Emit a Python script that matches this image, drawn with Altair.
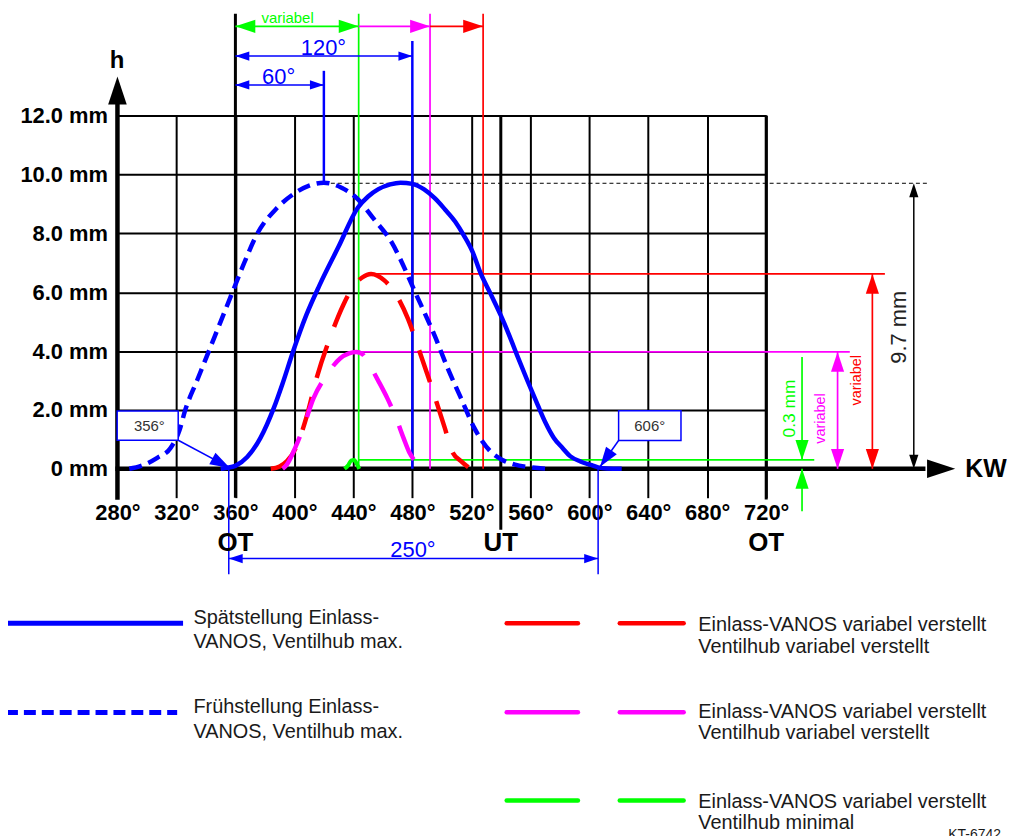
import altair as alt
import pandas as pd

FONT = "Liberation Sans"
BLUE, RED, MAG, GRN, BLK = "#0000ff", "#ff0000", "#ff00ff", "#00ff00", "#000000"
TXT = "#1a1a1a"

# ---------------- axis ticks ----------------
x_ticks = [280, 320, 360, 400, 440, 480, 520, 560, 600, 640, 680, 720]
y_ticks = [0, 2, 4, 6, 8, 10, 12]

# ---------------- valve lift curves (crank angle deg, lift mm) ----------------
late_deg = [350, 354, 360, 368, 377, 386, 392, 399, 408, 417, 430, 443, 450, 457, 465,
            472, 480, 488, 495, 502, 509, 515, 521, 526, 533, 540, 546, 551, 558, 565,
            570, 576, 582, 587, 594, 601, 606, 612, 622]
late_mm = [0, 0.03, 0.1, 0.4, 1.05, 2.06, 2.9, 3.97, 5.21, 6.23, 7.55, 8.87, 9.25, 9.5, 9.66,
           9.72, 9.68, 9.49, 9.2, 8.82, 8.4, 7.92, 7.35, 6.68, 5.95, 5.21, 4.5, 3.86, 3.0, 2.17,
           1.6, 1.05, 0.7, 0.43, 0.25, 0.13, 0.05, 0.01, 0]

early_deg = [288, 296, 307, 316, 322, 326, 334, 342, 350, 358, 366, 375, 388, 399, 410, 420,
             432, 443, 454, 466, 477, 481, 486, 495, 504, 513, 522, 533, 541, 549, 560, 572]
early_mm = [0, 0.1, 0.37, 0.71, 1.3, 2.0, 3.0, 4.0, 5.0, 6.0, 7.0, 8.0, 8.85, 9.32, 9.62, 9.72,
            9.55, 9.16, 8.48, 7.69, 6.56, 6.1, 5.55, 4.54, 3.41, 2.4, 1.39, 0.59, 0.3, 0.15, 0.05, 0]

red_deg = [384, 390, 395, 401, 408, 415, 424, 433, 440, 446, 452, 461, 470, 477, 485, 490,
           497, 502, 507, 513, 518]
red_mm = [0, 0.08, 0.26, 0.71, 1.72, 3.07, 4.43, 5.55, 6.2, 6.5, 6.62, 6.4, 5.83, 5.1, 3.97,
          3.24, 2.17, 1.39, 0.59, 0.26, 0.05]

mag_deg = [392, 395, 400, 406, 413, 422, 431, 437, 442, 446, 451, 457, 463, 469, 474, 478,
           483, 487, 491]
mag_mm = [0, 0.15, 0.65, 1.39, 2.4, 3.19, 3.75, 3.92, 3.97, 3.9, 3.52, 2.98, 2.4, 1.72, 1.05,
          0.55, 0.2, 0.06, 0]

grn_deg = [434, 436.5, 438.5, 440.5, 442.5, 444]
grn_mm = [0, 0.12, 0.28, 0.3, 0.15, 0]

# ---------------- key values ----------------
OT1, UT, OT2 = 360, 540, 720
LATE_OPEN, LATE_CLOSE = 356, 606
EARLY_PEAK, LATE_PEAK = 420, 480
GREEN_END, MAG_END, RED_END = 443.6, 492, 528
LIFT_MAX, LIFT_RED, LIFT_MAG, LIFT_MIN = 9.7, 6.62, 3.97, 0.3

legend_left = ["Spätstellung Einlass-", "VANOS, Ventilhub max.",
               "Frühstellung Einlass-", "VANOS, Ventilhub max."]
legend_right = ["Einlass-VANOS variabel verstellt", "Ventilhub variabel verstellt",
                "Einlass-VANOS variabel verstellt", "Ventilhub variabel verstellt",
                "Einlass-VANOS variabel verstellt", "Ventilhub minimal"]

XS = alt.Scale(domain=[280, 720], nice=False, zero=False)
YS = alt.Scale(domain=[0, 12], nice=False, zero=False)
HEAD = "M0,0L-2,-0.66L-2,0.66Z"

XA = alt.Axis(values=x_ticks, labelExpr="datum.value + '°'", labelFont=FONT,
              labelFontSize=22, labelFontWeight="bold", labelColor=BLK, labelPadding=5,
              ticks=True, tickSize=29, tickWidth=2, tickColor=BLK, grid=True,
              gridColor=BLK, gridWidth=2, gridOpacity=1, domain=False, title=None,
              labelFlush=False, labelOverlap=False)
YA = alt.Axis(values=y_ticks,
              labelExpr="datum.value == 0 ? '0 mm' : format(datum.value, '.1f') + ' mm'",
              labelFont=FONT, labelFontSize=22, labelFontWeight="bold", labelColor=BLK,
              labelPadding=10, ticks=False, grid=True, gridColor=BLK, gridWidth=2,
              gridOpacity=1, domain=False, title=None, labelFlush=False, labelOverlap=False)


def X(f):
    return alt.X(f"{f}:Q", scale=XS, axis=XA)


def Y(f):
    return alt.Y(f"{f}:Q", scale=YS, axis=YA)


def segs(rows, color, width, dash=None, cap="butt"):
    df = pd.DataFrame(rows, columns=["x", "y", "x2", "y2"])
    kw = dict(color=color, strokeWidth=width, strokeCap=cap)
    if dash:
        kw["strokeDash"] = dash
    return alt.Chart(df).mark_rule(**kw).encode(x=X("x"), y=Y("y"), x2="x2:Q", y2="y2:Q")


def texts(rows, size, color, weight="normal", angle=0, align="center"):
    df = pd.DataFrame(rows, columns=["x", "y", "t"])
    return alt.Chart(df).mark_text(font=FONT, fontSize=size, color=color, fontWeight=weight,
                                   angle=angle, align=align, baseline="middle").encode(
        x=X("x"), y=Y("y"), text="t:N")


def heads(rows, color, size):
    df = pd.DataFrame(rows, columns=["x", "y", "a"])
    return alt.Chart(df).mark_point(shape=HEAD, filled=True, size=size, color=color,
                                    opacity=1, strokeWidth=0).encode(
        x=X("x"), y=Y("y"), angle=alt.Angle("a:Q", scale=None))


def curve(deg, mm, color, width, dash=None):
    df = pd.DataFrame({"x": deg, "y": mm})
    kw = dict(color=color, strokeWidth=width, interpolate="monotone")
    if dash:
        kw["strokeDash"] = dash
    return alt.Chart(df).mark_line(**kw).encode(x=X("x"), y=Y("y"))


layers = [
    # frame lines
    segs([(OT1, -0.98, OT1, 15.46), (UT, -2.07, UT, 12), (OT2, -1.04, OT2, 12)], BLK, 3),
    segs([(280, -1.05, 280, 12.5), (278.6, 0, 828, 0)], BLK, 4.5),
    segs([(EARLY_PEAK, LIFT_MAX, 829.1, LIFT_MAX)], BLK, 1, dash=[4, 3]),
    segs([(820.1, 0.2, 820.1, LIFT_MAX - 0.2)], BLK, 1.5),
    # colored guide lines
    segs([(GREEN_END, 0, GREEN_END, 15.46), (OT1, 15.03, GREEN_END, 15.03),
          (GREEN_END, LIFT_MIN, 752.6, LIFT_MIN), (744.3, 3.8, 744.3, LIFT_MIN),
          (744.3, -1.44, 744.3, 0)], GRN, 1.7),
    segs([(MAG_END, 0, MAG_END, 15.46), (GREEN_END, 15.03, MAG_END, 15.03),
          (440, LIFT_MAG, 776.7, LIFT_MAG), (768.4, 0, 768.4, LIFT_MAG)], MAG, 1.7),
    segs([(RED_END, 0, RED_END, 15.46), (MAG_END, 15.03, RED_END, 15.03),
          (452, LIFT_RED, 800.5, LIFT_RED), (792, 0, 792, LIFT_RED)], RED, 1.7),
    segs([(LATE_PEAK, 0, LATE_PEAK, 14.53), (EARLY_PEAK, LIFT_MAX, EARLY_PEAK, 13.52)], BLUE, 2.5),
    segs([(OT1, 14.02, LATE_PEAK, 14.02), (OT1, 13.04, EARLY_PEAK, 13.04),
          (LATE_OPEN - 0.5, -3.05, LATE_CLOSE, -3.05), (LATE_OPEN - 0.5, 0, LATE_OPEN - 0.5, -3.58),
          (LATE_CLOSE, 0.05, LATE_CLOSE, -3.58), (321.2, 0.97, 356.3, 0.03),
          (619.9, 0.96, 607.3, 0.07)], BLUE, 1.5),
    # curves
    curve(late_deg, late_mm, BLUE, 4.5),
    curve(early_deg, early_mm, BLUE, 4.5, dash=[13, 7]),
    curve(red_deg, red_mm, RED, 4.5, dash=[34, 20]),
    curve(mag_deg, mag_mm, MAG, 4.5, dash=[37, 21]),
    curve(grn_deg, grn_mm, GRN, 4),
    # callout boxes
    alt.Chart(pd.DataFrame({"x": [279.8, 619.9], "x2": [321.2, 662.2],
                            "y": [1.96, 1.97], "y2": [0.97, 0.96]})).mark_rect(
        fill="white", stroke=BLUE, strokeWidth=1.5).encode(
        x=X("x"), x2="x2:Q", y=Y("y"), y2="y2:Q"),
    texts([(301.6, 1.46, f"{LATE_OPEN}°"), (641.0, 1.46, f"{LATE_CLOSE}°")], 15, "#333333"),
    # legend samples
    segs([(204.4, -5.25, 324.5, -5.25)], BLUE, 5),
    segs([(204.4, -8.28, 320.5, -8.28)], BLUE, 5, dash=[12, 6]),
    segs([(544, -5.25, 592.3, -5.25), (620.7, -5.25, 664, -5.25)], RED, 4.5, cap="round"),
    segs([(544, -8.27, 592.3, -8.27), (620.7, -8.27, 664, -8.27)], MAG, 4.5, cap="round"),
    segs([(544, -11.27, 592.3, -11.27), (620.7, -11.27, 664, -11.27)], GRN, 4.5, cap="round"),
    texts([(331.5, -5.07, legend_left[0]), (331.5, -5.88, legend_left[1]),
           (331.5, -8.10, legend_left[2]), (331.5, -8.94, legend_left[3])], 20, TXT, align="left"),
    texts([(673.9, -5.32, legend_right[0]), (673.9, -6.05, legend_right[1]),
           (673.9, -8.25, legend_right[2]), (673.9, -8.98, legend_right[3]),
           (673.9, -11.32, legend_right[4]), (673.9, -12.02, legend_right[5])], 20, TXT,
          align="left"),
    texts([(843.5, -12.44, "KT-6742")], 14, TXT, align="left"),
    # labels
    texts([(279.7, 13.86, "h")], 24, BLK, weight="bold"),
    texts([(869.0, -0.02, "KW")], 25, BLK, weight="bold"),
    texts([(OT1, -2.535, "OT"), (UT, -2.535, "UT"), (OT2, -2.535, "OT")], 26, BLK, weight="bold"),
    texts([(419.7, 14.30, "120°"), (389.3, 13.30, "60°"),
           (480.4, -2.755, f"{LATE_CLOSE - LATE_OPEN}°")], 22, BLUE),
    texts([(395.4, 15.33, "variabel")], 15, GRN),
    texts([(810.0, 4.81, f"{LIFT_MAX} mm")], 22, "#222222", angle=270),
    texts([(781.9, 3.01, "variabel")], 14.5, RED, angle=270),
    texts([(757.1, 1.71, "variabel")], 14.5, MAG, angle=270),
    texts([(736.4, 2.05, f"{LIFT_MIN} mm")], 17.5, GRN, angle=270),
    # arrow heads
    heads([(848.2, 0, 0), (280, 13.33, 270)], BLK, 800),
    heads([(820.1, LIFT_MAX, 270), (820.1, 0, 90)], BLK, 196),
    heads([(OT1, 15.03, 180), (GREEN_END, 15.03, 0), (744.3, LIFT_MIN, 90), (744.3, 0, 270)], GRN, 400),
    heads([(MAG_END, 15.03, 0), (768.4, LIFT_MAG, 270), (768.4, 0, 90)], MAG, 400),
    heads([(RED_END, 15.03, 0), (792, LIFT_RED, 270), (792, 0, 90)], RED, 400),
    heads([(OT1, 14.02, 180), (LATE_PEAK, 14.02, 0), (OT1, 13.04, 180), (EARLY_PEAK, 13.04, 0),
           (LATE_OPEN - 0.5, -3.05, 180), (LATE_CLOSE, -3.05, 0)], BLUE, 196),
    heads([(356.3, 0.03, 28), (607.3, 0.07, 125)], BLUE, 400),
]

chart = alt.layer(*layers).properties(
    width=652, height=355,
    autosize=alt.AutoSizeParams(type="none"),
    padding={"left": 110, "top": 106, "right": 242, "bottom": 379},
    background="white",
).configure_view(strokeWidth=0)

chart.save("out.html", embed_options={"renderer": "svg", "actions": False})
